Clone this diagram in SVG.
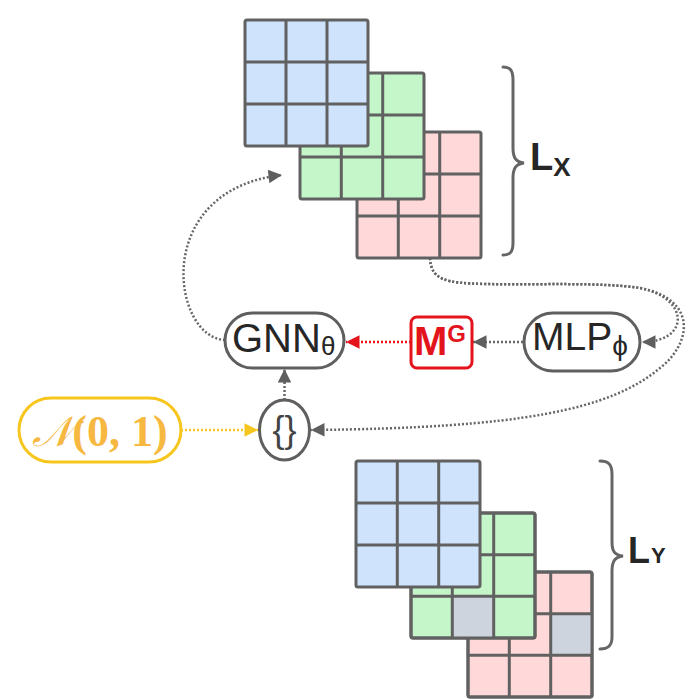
<svg xmlns="http://www.w3.org/2000/svg" width="692" height="699" viewBox="0 0 692 699">
<style>
.grid{stroke:#616161;stroke-width:3;stroke-linejoin:round}
.gl{stroke:#616161;stroke-width:3;fill:none}
.blue{fill:#d0e3fd}
.green{fill:#c4f6c9}
.red{fill:#ffd8d9}
.gray{fill:#cdd4dd}
.brace{fill:none;stroke:#666;stroke-width:3;stroke-linecap:round}
.pill{fill:#fff;stroke:#5f5f5f;stroke-width:3}
.lbl{font-family:"Liberation Sans",Arial,sans-serif;fill:#262626}
.conn{fill:none;stroke:#666;stroke-width:2.5;stroke-dasharray:2 2}
</style>
<defs>
<marker id="ag" viewBox="0 0 10 10" refX="10" refY="5" markerWidth="7" markerHeight="5.4" orient="auto" markerUnits="strokeWidth"><path d="M0,0 L10,5 L0,10 z" fill="#5f5f5f"/></marker>
<marker id="ar" viewBox="0 0 10 10" refX="10" refY="5" markerWidth="7" markerHeight="5.4" orient="auto" markerUnits="strokeWidth"><path d="M0,0 L10,5 L0,10 z" fill="#e3141c"/></marker>
<marker id="ay" viewBox="0 0 10 10" refX="10" refY="5" markerWidth="7" markerHeight="5.4" orient="auto" markerUnits="strokeWidth"><path d="M0,0 L10,5 L0,10 z" fill="#f7c61e"/></marker>
</defs>

<g id="connectors">
<path class="conn" d="M225,340 C172,338 150,190 282,175" marker-end="url(#ag)"/>
<path class="conn" d="M430,258 C431,280 445,283 485,284 C540,285 600,282 640,288 C690,298 690,342 642,342" marker-end="url(#ag)"/>
<path class="conn" d="M430,258 C431,280 445,283 485,284 C540,285 600,282 640,288 C700,300 690,345 660,368 C610,410 520,428 311,430" marker-end="url(#ag)"/>
<path class="conn" d="M523,342 L473,342" marker-end="url(#ag)"/>
<path class="conn" d="M411,342 L346,342" style="stroke:#e3141c" marker-end="url(#ar)"/>
<path class="conn" d="M284.5,400 L284.5,369" marker-end="url(#ag)"/>
<path class="conn" d="M181,430 L258,430" style="stroke:#f7c61e" marker-end="url(#ay)"/>
</g>

<g id="LX-red">
<rect class="grid red" x="357" y="132" width="124" height="126" rx="2"/>
<path class="gl" d="M398.3,132 V258 M439.7,132 V258 M357,174 H481 M357,216 H481"/>
</g>
<g id="LX-green">
<rect class="grid green" x="300" y="73" width="124" height="126" rx="2"/>
<path class="gl" d="M341.3,73 V199 M382.7,73 V199 M300,115 H424 M300,157 H424"/>
</g>
<g id="LX-blue">
<rect class="grid blue" x="245" y="20" width="123" height="126" rx="2"/>
<path class="gl" d="M286,20 V146 M327,20 V146 M245,62 H368 M245,104 H368"/>
</g>
<g id="LX-brace">
<path class="brace" d="M503,67 C510,67 513,70 513,80 V148 C513,158 516,162 524,163 C516,164 513,168 513,178 V243 C513,252 510,255 503,255"/>
<text class="lbl" x="530" y="170" font-size="38" font-weight="bold">L<tspan font-size="26" dy="6">X</tspan></text>
</g>

<g id="LY-red">
<rect class="grid red" x="468" y="572" width="124" height="125" rx="2"/>
<rect class="gray" x="551" y="613.7" width="41" height="41.7"/>
<path class="gl" d="M509.3,572 V697 M550.7,572 V697 M468,613.7 H592 M468,655.3 H592"/>
<rect class="grid" x="468" y="572" width="124" height="125" rx="2" fill="none"/>
</g>
<g id="LY-green">
<rect class="grid green" x="411" y="513" width="124" height="125" rx="2"/>
<rect class="gray" x="452.3" y="596.3" width="41.4" height="41.7"/>
<path class="gl" d="M452.3,513 V638 M493.7,513 V638 M411,554.7 H535 M411,596.3 H535"/>
<rect class="grid" x="411" y="513" width="124" height="125" rx="2" fill="none"/>
</g>
<g id="LY-blue">
<rect class="grid blue" x="356" y="461" width="124" height="126" rx="2"/>
<path class="gl" d="M397.3,461 V587 M438.7,461 V587 M356,503 H480 M356,545 H480"/>
</g>
<g id="LY-brace">
<path class="brace" d="M600,461 C608,461 612,464 612,474 V542 C612,552 615,555 623,556 C615,557 612,561 612,571 V637 C612,646 608,649 600,649"/>
<text class="lbl" x="628" y="563" font-size="36" font-weight="bold">L<tspan font-size="22" dx="1">Y</tspan></text>
</g>

<g id="GNN">
<rect class="pill" x="225" y="313" width="119" height="55" rx="27.5"/>
<text class="lbl" x="232" y="352" font-size="40">GNN<tspan font-size="26" dy="3">θ</tspan></text>
</g>
<g id="MG">
<rect x="411" y="317" width="61" height="51" rx="6" fill="#fff" stroke="#e3141c" stroke-width="3"/>
<text x="414" y="355" font-family="Liberation Sans,Arial,sans-serif" font-weight="bold" font-size="40" fill="#e3141c">M<tspan font-size="24" dy="-13">G</tspan></text>
</g>
<g id="MLP">
<rect class="pill" x="524" y="313" width="116" height="58" rx="29"/>
<text class="lbl" x="532" y="350" font-size="39">MLP<tspan font-size="28" dy="5">ϕ</tspan></text>
</g>
<g id="concat">
<ellipse cx="284.5" cy="430" rx="25" ry="30" fill="#fff" stroke="#5f5f5f" stroke-width="3"/>
<text x="284.5" y="442" text-anchor="middle" font-family="Liberation Sans,Arial,sans-serif" font-size="36" fill="#444">{}</text>
</g>
<g id="normal">
<rect x="19" y="398" width="162" height="64" rx="32" fill="#fff" stroke="#f7c61e" stroke-width="3"/>
<text x="100" y="446" text-anchor="middle" font-family="Liberation Serif,'DejaVu Serif',serif" font-weight="bold" font-size="44" fill="#f6b840"><tspan font-style="italic" font-weight="normal" font-size="42" font-family="'DejaVu Serif',serif">𝒩</tspan>(0, 1)</text>
</g>
</svg>
